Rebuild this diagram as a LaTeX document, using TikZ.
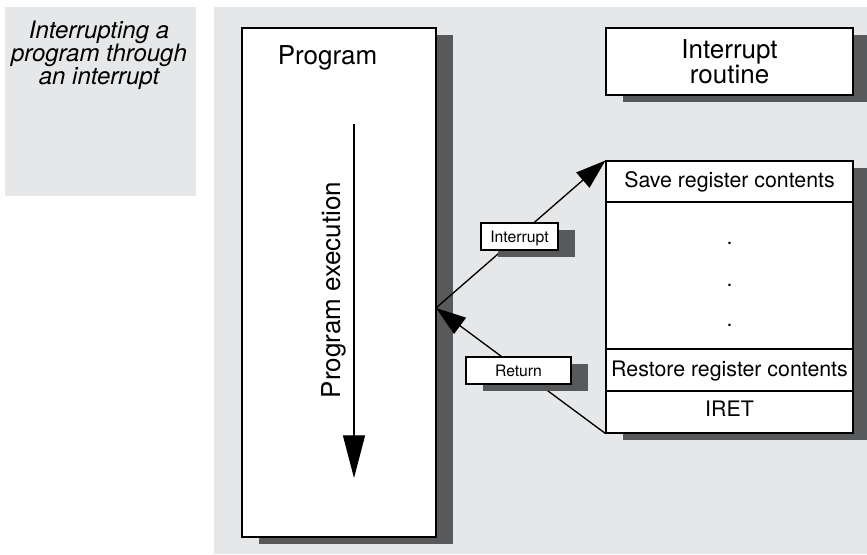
\documentclass[tikz,border=0pt]{standalone}
\usepackage{fontspec}
\setmainfont{TeX Gyre Heros}
\usetikzlibrary{arrows.meta,shadows}
\definecolor{panelgray}{RGB}{230,231,232}
\definecolor{shadowgray}{RGB}{88,89,91}
\tikzset{
  box/.style={draw=black,line width=0.8pt,fill=white,inner sep=0pt,
    drop shadow={shadow xshift=12.75pt,shadow yshift=-5.25pt,fill=shadowgray,opacity=1}},
  lbl/.style={box,font=\fsmall,minimum height=27*\px,text depth=0pt},
  flow/.style={line width=1pt,-{Triangle[length=32pt,width=16.5pt]}},
  jump/.style={line width=1pt,-{Triangle[length=22.5pt,width=15pt]}}
}

\begin{document}
\begin{tikzpicture}[x=0.75pt,y=-0.75pt]
\def\px{0.75pt}
\def\fbig{\fontsize{19.5}{17}\selectfont}
\def\fmid{\fontsize{16}{19}\selectfont}
\def\fsmall{\fontsize{11.8}{14}\selectfont}
\clip (0,0) rectangle (867,555);
\fill[panelgray] (5,7) rectangle (196,196);
\fill[panelgray] (214,7) rectangle (867,554);
\node[anchor=north,align=center,inner sep=0pt,font=\fontsize{18}{17.25}\selectfont\itshape] (title) at (99,21) {Interrupting a\\program through\\an interrupt};
\node[box,minimum width=194*\px,minimum height=509*\px] (prog) at (339,282.5) {};
\node[anchor=base,font=\fbig] (progtitle) at (327.5,65) {Program};
\node[box,minimum width=247*\px,minimum height=67*\px,align=center,font=\fbig] (routinetitle) at (729.5,61.5) {Interrupt\\routine};
\node[box,minimum width=247*\px,minimum height=272*\px] (routine) at (729.5,297) {};
\foreach \y in {202,349,391}{
\draw[line width=0.8pt] (606,\y) -- (853,\y);}
\node[anchor=base,font=\fmid] (save) at (729.5,188) {Save register contents};
\foreach \y [count=\i] in {243,285,325}{
\node[font=\fmid] (dot\i) at (729.5,\y) {.};}
\node[anchor=base,font=\fmid] (restore) at (729.5,377) {Restore register contents};
\node[anchor=base,font=\fmid] (iret) at (729.5,417) {IRET};
\coordinate (flowtop) at (354,124);
\coordinate (flowend) at (354,478);
\draw[flow] (flowtop) -- (flowend);
\node[rotate=90,anchor=base,font=\fbig] (flowtext) at (340,290) {Program execution};
\coordinate (split) at (436,308);
\draw[jump] (split) -- (routine.north west);
\draw[jump] (routine.south west) -- (split);
\node[lbl,minimum width=77*\px] (intlbl) at (519.5,236.5) {Interrupt};
\node[lbl,minimum width=105*\px] (retlbl) at (518.5,370.5) {Return};
\end{tikzpicture}
\end{document}
